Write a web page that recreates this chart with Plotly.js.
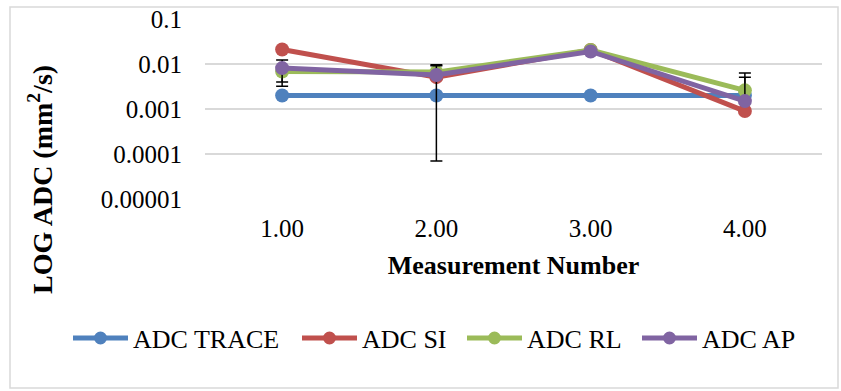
<!DOCTYPE html>
<html>
<head>
<meta charset="utf-8">
<script src="https://cdn.plot.ly/plotly-3.0.1.min.js"></script>
<style>html,body{margin:0;padding:0;background:#fff;}#chart{width:841px;height:391px;}</style>
</head>
<body>
<div id="chart"></div>
<script>
const categories = ['1.00', '2.00', '3.00', '4.00'];
const seriesNames = ['ADC TRACE', 'ADC SI', 'ADC RL', 'ADC AP'];
const adcTrace = [0.002, 0.002, 0.002, 0.002];
const adcSI = [0.021, 0.0051, 0.0205, 0.0009];
const adcRL = [0.0068, 0.0066, 0.0205, 0.0026];
const adcAP = [0.0081, 0.0057, 0.019, 0.0015];
const rlErrPlus = [0.0055, 0.0030, 0, 0.0037];
const rlErrMinus = [0.0028, 0.00653, 0, 0];
const apErrPlus = [0, 0.0035, 0, 0.0036];
const apErrMinus = [0.0049, 0, 0, 0];
const colors = ['#4F81BD', '#C0504D', '#9BBB59', '#8064A2'];

const serif = 'Liberation Serif';

// plot-area geometry (pixels) used to convert layout positions to paper coords
const L = 205, R = 19, T = 19, B = 192, W = 841, H = 391;
const PW = W - L - R, PH = H - T - B;
const px = v => (v - L) / PW;
const py = v => (H - B - v) / PH;

function mk(name, y, color, err) {
  const t = {
    type: 'scatter', mode: 'lines+markers', name: name,
    x: categories, y: y,
    line: {color: color, width: 5},
    marker: {color: color, size: 14}
  };
  if (err) {
    t.error_y = {type: 'data', symmetric: false, array: err[0], arrayminus: err[1],
      color: '#000', thickness: 1.5, width: 6};
  }
  return t;
}

const data = [
  mk(seriesNames[0], adcTrace, colors[0]),
  mk(seriesNames[1], adcSI, colors[1]),
  mk(seriesNames[2], adcRL, colors[2], [rlErrPlus, rlErrMinus]),
  mk(seriesNames[3], adcAP, colors[3], [apErrPlus, apErrMinus])
];

// custom legend (long sample lines like the original)
const legendLineStart = [73, 302, 467, 642];
const legendLen = 55, legendY = 338;
const shapes = [{
  type: 'rect', xref: 'paper', yref: 'paper',
  x0: px(10), x1: px(838), y0: py(388), y1: py(7),
  line: {color: '#D9D9D9', width: 1.5}, fillcolor: 'rgba(0,0,0,0)', layer: 'below'
}];
const annotations = [{
  text: '<b>LOG ADC (mm<sup>2</sup>/s)</b>', xref: 'paper', yref: 'paper',
  x: px(40), y: py(180), textangle: -90, showarrow: false,
  font: {family: serif, size: 28, color: '#000'}, xanchor: 'center', yanchor: 'middle'
}];
seriesNames.forEach((n, i) => {
  const x0 = legendLineStart[i], x1 = x0 + legendLen;
  shapes.push({type: 'line', xref: 'paper', yref: 'paper', x0: px(x0), x1: px(x1),
    y0: py(legendY), y1: py(legendY), line: {color: colors[i], width: 5}});
  shapes.push({type: 'circle', xref: 'paper', yref: 'paper', xsizemode: 'pixel', ysizemode: 'pixel',
    xanchor: px((x0 + x1) / 2), yanchor: py(legendY), x0: -6.5, x1: 6.5, y0: -6.5, y1: 6.5,
    fillcolor: colors[i], line: {width: 0}});
  annotations.push({text: n, xref: 'paper', yref: 'paper', x: px(x1 + 3), y: py(legendY + 1),
    xanchor: 'left', yanchor: 'middle', showarrow: false,
    font: {family: serif, size: 26, color: '#000'}});
});

const layout = {
  width: W, height: H,
  margin: {l: L, r: R, t: T, b: B},
  paper_bgcolor: '#fff', plot_bgcolor: '#fff',
  font: {family: serif, color: '#000'},
  showlegend: false,
  xaxis: {
    type: 'category', range: [-0.5, 3.5], showgrid: false, zeroline: false, showline: false,
    ticks: '', tickfont: {family: serif, size: 25, color: '#000'},
    ticklabelstandoff: 12,
    title: {text: '<b>Measurement Number</b>', font: {family: serif, size: 26, color: '#000'}, standoff: 14}
  },
  yaxis: {
    type: 'log', range: [-5, -1], tickvals: [0.00001, 0.0001, 0.001, 0.01, 0.1],
    ticktext: ['0.00001', '0.0001', '0.001', '0.01', '0.1'],
    showgrid: true, gridcolor: '#D9D9D9', gridwidth: 1.5, zeroline: false, showline: false,
    ticks: '', tickfont: {family: serif, size: 25, color: '#000'},
    ticklabelstandoff: 22
  },
  annotations: annotations,
  shapes: shapes
};

Plotly.newPlot('chart', data, layout, {displayModeBar: false, staticPlot: true});
</script>
</body>
</html>
